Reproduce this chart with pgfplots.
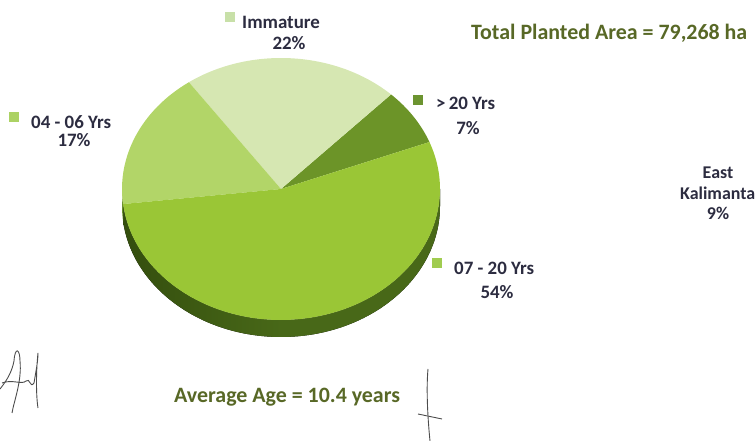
\documentclass[border=0pt]{standalone}
\usepackage{pgfplots}
\pgfplotsset{compat=1.18}
\usepackage{fontspec}
\setmainfont{Carlito}
\definecolor{cImm}{RGB}{214,231,178}
\definecolor{cOld}{RGB}{108,148,40}
\definecolor{cYoung}{RGB}{178,213,104}
\definecolor{cMid}{RGB}{154,198,54}
\definecolor{sideMid}{RGB}{72,104,24}
\definecolor{sideDark}{RGB}{52,78,14}
\definecolor{sideYoung}{RGB}{104,142,44}
\definecolor{txt}{RGB}{44,44,64}
\definecolor{olive}{RGB}{88,104,38}
\definecolor{mImm}{RGB}{200,224,168}
\definecolor{mOld}{RGB}{108,148,48}
\definecolor{mYoung}{RGB}{172,210,100}
\definecolor{mMid}{RGB}{160,204,80}
\begin{document}
\begin{tikzpicture}
\begin{axis}[width=755bp,height=441bp,scale only axis,
  xmin=0,xmax=755,ymin=0,ymax=441,axis lines=none,clip=false]
% pie: shares in percent, counter-clockwise from 21 degrees
% (> 20 Yrs, Immature, 04 - 06 Yrs, 07 - 20 Yrs)
% side of the 3D pie
\fill[left color=sideDark,right color=sideMid,middle color=sideMid]
  (axis cs:281,252) ++(186.6:159bp and 131bp)
  arc[start angle=186.6,end angle=360,x radius=159bp,y radius=131bp]
  -- ++(0,-17bp)
  arc[start angle=360,end angle=186.6,x radius=159bp,y radius=131bp] -- cycle;
\fill[sideYoung]
  (axis cs:281,252) ++(180:159bp and 131bp)
  arc[start angle=180,end angle=186.6,x radius=159bp,y radius=131bp]
  -- ++(0,-17bp)
  arc[start angle=186.6,end angle=180,x radius=159bp,y radius=131bp] -- cycle;
\def\s{21}
\foreach \p/\c in {7/cOld,22/cImm,17/cYoung,54/cMid}{
  \pgfmathsetmacro\e{\s+3.6*\p}
  \edef\cmd{\noexpand\fill[\c] (axis cs:281,252) -- ++(\s:159bp and 131bp)
    arc[start angle=\s,end angle=\e,x radius=159bp,y radius=131bp] -- cycle;}
  \cmd
  \global\let\s\e
}
% labels
\begin{scope}[every node/.style={font=\fontsize{19}{21}\selectfont\bfseries,text=txt,inner sep=0pt}]
\fill[mImm] (axis cs:225,429) rectangle (axis cs:235,419);
\node[anchor=west] at (axis cs:242,419) {Immature};
\node at (axis cs:289,398) {22\%};
\fill[mOld] (axis cs:413,346) rectangle (axis cs:423,336);
\node[anchor=west] at (axis cs:436,338) {>\,20 Yrs};
\node at (axis cs:468,313) {7\%};
\fill[mYoung] (axis cs:9,329) rectangle (axis cs:19,319);
\node[anchor=west] at (axis cs:31,319) {04 - 06 Yrs};
\node at (axis cs:74,301) {17\%};
\fill[mMid] (axis cs:432,183) rectangle (axis cs:442,173);
\node[anchor=west] at (axis cs:454,173) {07 - 20 Yrs};
\node at (axis cs:497,149) {54\%};
\end{scope}
\begin{scope}[every node/.style={font=\fontsize{18}{20}\selectfont\bfseries,text=txt,inner sep=0pt}]
\node at (axis cs:718,268) {East};
\node[anchor=west] at (axis cs:680,248) {Kalimanta};
\node at (axis cs:718,228) {9\%};
\end{scope}
\node[anchor=west,inner sep=0pt,font=\fontsize{22}{24}\selectfont\bfseries,text=olive] at (axis cs:471,408) {Total Planted Area = 79,268 ha};
\node[anchor=west,inner sep=0pt,font=\fontsize{22}{24}\selectfont\bfseries,text=olive] at (axis cs:174,44) {Average Age = 10.4 years};
% handwritten marks
\draw[gray!60!black,line width=0.9pt] (axis cs:0,52) .. controls (axis cs:8,62) and (axis cs:12,70) .. (axis cs:14,80)
  .. controls (axis cs:15,95) and (axis cs:20,92) .. (axis cs:20,80)
  .. controls (axis cs:22,60) and (axis cs:14,40) .. (axis cs:12,28);
\draw[gray!60!black,line width=0.9pt] (axis cs:2,58) .. controls (axis cs:12,62) and (axis cs:22,56) .. (axis cs:26,60)
  .. controls (axis cs:30,64) and (axis cs:30,52) .. (axis cs:34,58);
\draw[gray!60!black,line width=0.9pt] (axis cs:34,58) .. controls (axis cs:36,70) and (axis cs:38,80) .. (axis cs:38,88)
  .. controls (axis cs:36,70) and (axis cs:36,45) .. (axis cs:38,33);
\draw[gray!60!black,line width=0.9pt] (axis cs:428,72) .. controls (axis cs:426,50) and (axis cs:428,20) .. (axis cs:430,0);
\draw[gray!60!black,line width=0.9pt] (axis cs:418,27) -- (axis cs:442,22);
\end{axis}
\pgfresetboundingbox
\path[use as bounding box] (0,0) rectangle (755bp,441bp);
\end{tikzpicture}
\end{document}
